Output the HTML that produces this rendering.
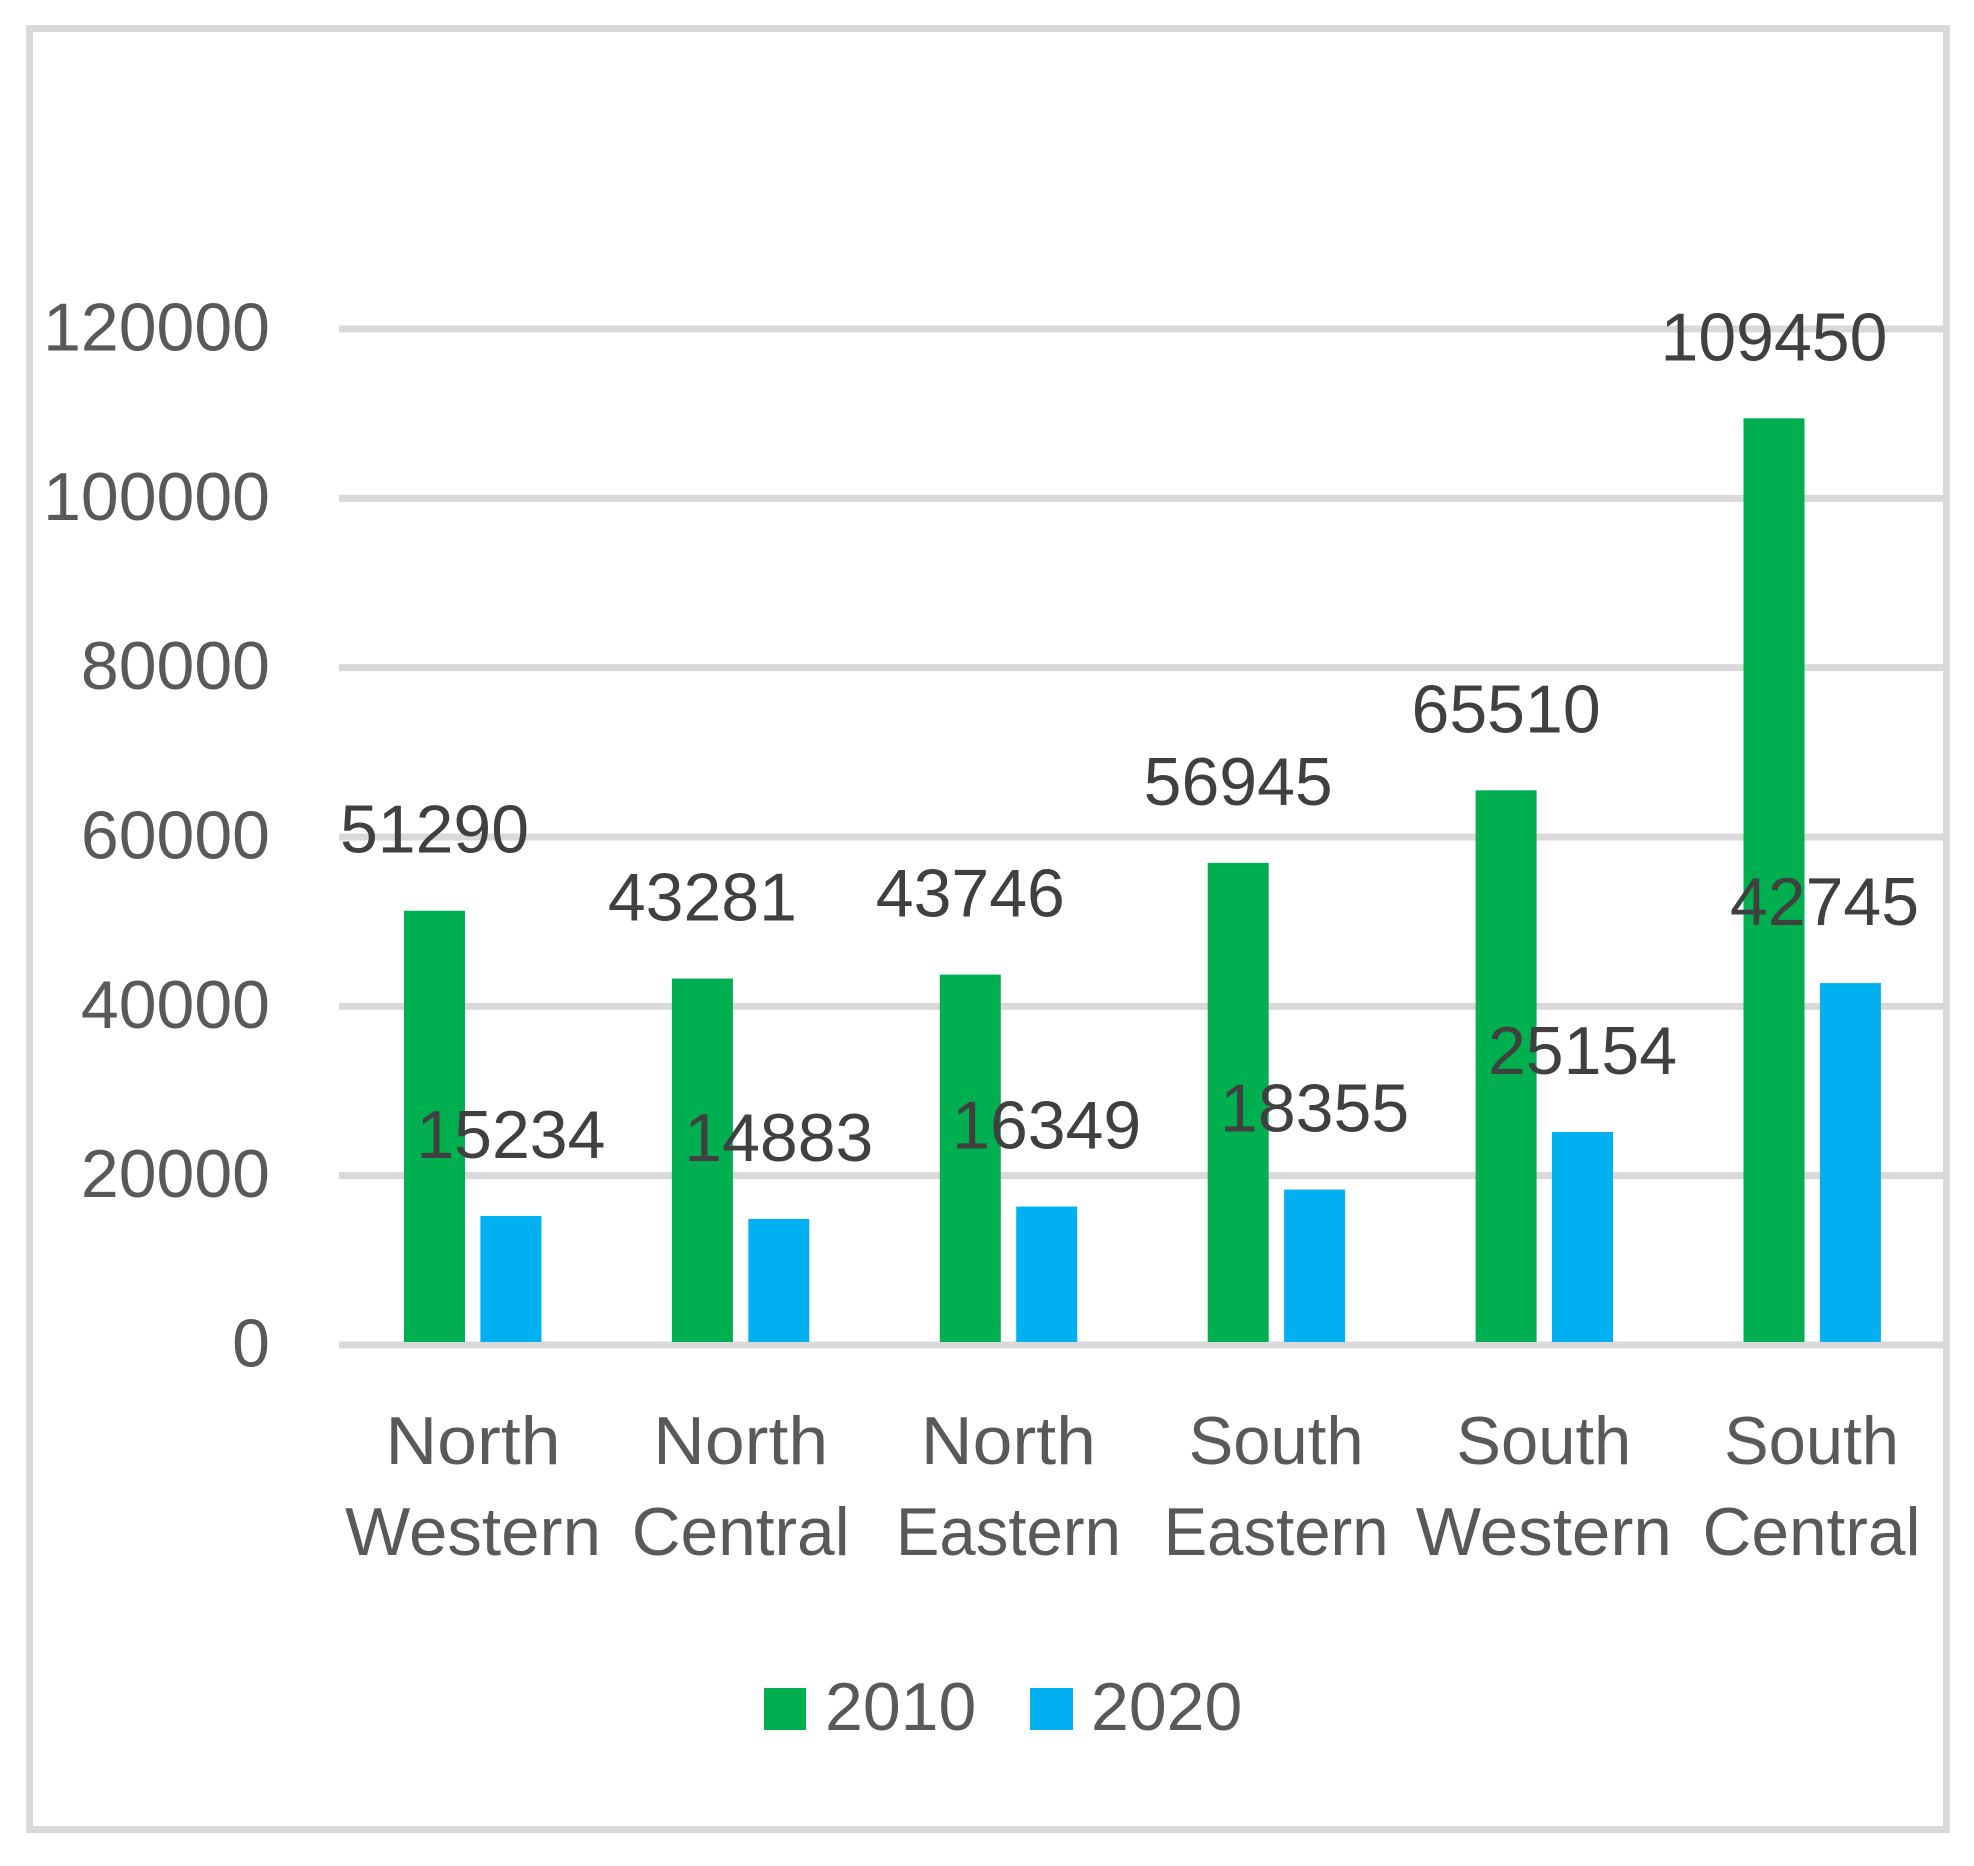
<!DOCTYPE html>
<html lang="en">
<head>
<meta charset="utf-8">
<title>Regional comparison 2010 and 2020</title>
<style>
html,body{margin:0;padding:0;background:#fff;width:1974px;height:1866px;overflow:hidden}
svg{display:block}
text{font-family:"Liberation Sans",sans-serif;font-size:68px}
</style>
</head>
<body>
<svg id="chart" xmlns="http://www.w3.org/2000/svg" width="1974" height="1866" viewBox="0 0 1974 1866">
  <rect x="29.5" y="28.5" width="1917" height="1801" fill="#fff" stroke="#d9d9d9" stroke-width="7"/>
  <g id="grid"></g>
  <g id="ticks"></g>
  <g id="bars"></g>
  <g id="cats"></g>
  <g id="values"></g>
  <g>
    <rect x="764" y="1688" width="42" height="42" fill="#00b050"/>
    <text x="825" y="1730" fill="#595959">2010</text>
    <rect x="1030" y="1688" width="43" height="42" fill="#00b0f0"/>
    <text x="1091" y="1730" fill="#595959">2020</text>
  </g>
</svg>
<script>
const categoriesLine1 = ["North", "North", "North", "South", "South", "South"];
const categoriesLine2 = ["Western", "Central", "Eastern", "Eastern", "Western", "Central"];
const series2010 = [51290, 43281, 43746, 56945, 65510, 109450];
const series2020 = [15234, 14883, 16349, 18355, 25154, 42745];
const yTicks = [0, 20000, 40000, 60000, 80000, 100000, 120000];

const NS = "http://www.w3.org/2000/svg";
const baseY = 1345, pxPerUnit = 1016 / 120000;
const firstGroupX = 404, groupStep = 267.9, barW = 61, seriesOffset = 76.4;
const labelRightLimit = 1919, digitW = 37.8;
const wordWidth = {North: 175, South: 175, Western: 256, Central: 218, Eastern: 225};
const yScale = v => baseY - v * pxPerUnit;
const xBar = (i, s) => firstGroupX + i * groupStep + s * seriesOffset;
const xCat = i => 473 + i * 267.7;

function make(tag, parent, props, content) {
  const el = document.createElementNS(NS, tag);
  for (const k in props) el.setAttribute(k, props[k]);
  if (content !== undefined) el.textContent = content;
  document.getElementById(parent).appendChild(el);
  return el;
}

yTicks.forEach(t => {
  const line = make("line", "grid", {x1: 339, x2: 1943, y1: yScale(t), y2: yScale(t), stroke: "#d9d9d9", "stroke-width": 7});
  
  
  const label = make("text", "ticks", {x: 270, y: yScale(t) + 21.5, "text-anchor": "end", fill: "#595959"}, String(t));
  
  
});

[series2010, series2020].forEach((values, s) => {
  values.forEach((v, i) => {
    const bar = make("rect", "bars", {x: xBar(i, s), y: yScale(v), width: barW, height: baseY - 3 - yScale(v), fill: s === 0 ? "#00b050" : "#00b0f0"});
    
    
    const text = String(v);
    const half = text.length * digitW / 2;
    const cx = Math.min(xBar(i, s) + barW / 2, labelRightLimit - half);
    const val = make("text", "values", {x: cx, y: yScale(v) - 58, "text-anchor": "middle", fill: "#404040"}, text);
    
    
  });
});

categoriesLine1.forEach((c, i) => {
  const a = make("text", "cats", {x: xCat(i), y: 1464, "text-anchor": "middle", fill: "#595959", textLength: wordWidth[c], lengthAdjust: "spacingAndGlyphs"}, c);
  
  
  const w = categoriesLine2[i];
  const b = make("text", "cats", {x: xCat(i), y: 1555, "text-anchor": "middle", fill: "#595959", textLength: wordWidth[w], lengthAdjust: "spacingAndGlyphs"}, w);
  
  
});
</script>
</body>
</html>
